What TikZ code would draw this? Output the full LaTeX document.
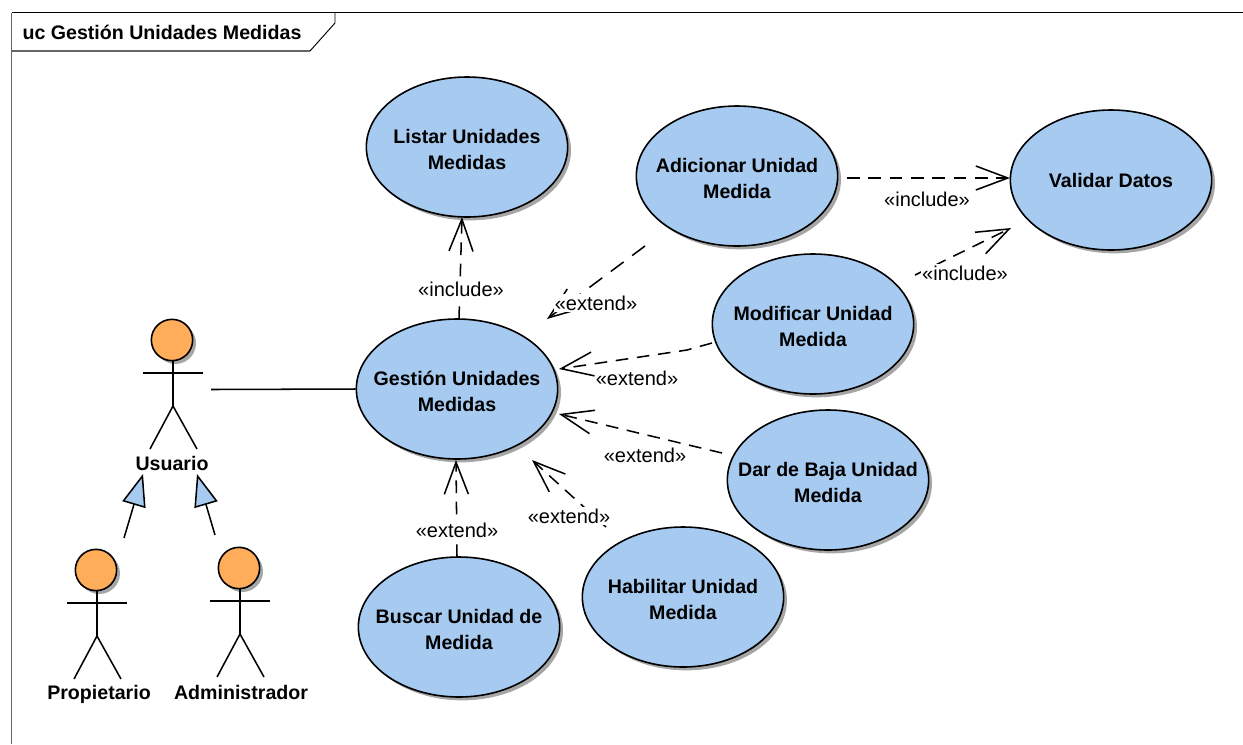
\documentclass[tikz,border=0pt]{standalone}
\usepackage{fontspec}
\setmainfont{Liberation Sans}
\usetikzlibrary{arrows.meta,shapes.geometric,shadows}

\definecolor{ucblue}{HTML}{A6CAF0}
\definecolor{actororange}{HTML}{FFAD5B}

\tikzset{
  usecase/.style={ellipse, draw, line width=1.2pt, fill=ucblue, inner ysep=0pt, inner xsep=-25pt,
    minimum width=151pt, minimum height=105pt, align=center,
    font=\fontsize{14.7}{19.5}\selectfont\bfseries,
    drop shadow={shadow xshift=2.5pt, shadow yshift=-2.5pt, fill=black!35, opacity=1}},
  usecasetwo/.style={usecase, text height=34pt},
  actorhead/.style={circle, draw, line width=1.2pt, fill=actororange, inner sep=0pt,
    minimum size=31pt,
    drop shadow={shadow xshift=2.5pt, shadow yshift=-2.5pt, fill=black!35, opacity=1}},
  actorname/.style={font=\fontsize{14.7}{16}\selectfont\bfseries, inner sep=1pt},
  depline/.style={line width=1.15pt, dash pattern=on 9.5pt off 6.5pt,
    -{Straight Barb[length=24pt, width=18pt, line width=1.15pt]}},
  deplabel/.style={fill=white, inner sep=1pt, font=\fontsize{15}{17}\selectfont},
  genline/.style={line width=1.15pt,
    -{Triangle[length=24pt, width=18pt, line width=1.15pt, fill=ucblue]}},
  actor/.pic={
    \node[actorhead] (-head) at (-1,0) {};
    \draw[line width=1.15pt] (0,21) -- (0,66) -- (-23,109);
    \draw[line width=1.15pt] (0,66) -- (24,109);
    \draw[line width=1.15pt] (-30,33) -- (30,33);
  }
}

\begin{document}
\begin{tikzpicture}[x=0.75pt, y=-0.75pt]
  \useasboundingbox (0,0) rectangle (1243,744);

  % Frame
  \draw[black!60, line width=1pt] (11.5,51) -- (11.5,744);
  \draw[line width=0.9pt] (11.5,12.5) -- (1243,12.5);
  \draw[black!60, line width=1pt] (11.5,12.5) -- (11.5,51) -- (310,51);
  \draw[line width=0.7pt] (310,51) -- (335,23) -- (335,12.5);
  \node[actorname, anchor=west] (title) at (21,32) {uc Gestión Unidades Medidas};

  % Use cases
  \node[usecasetwo] (listar) at (467,147) {Listar Unidades\\Medidas};
  \node[usecasetwo] (adicionar) at (737,176) {Adicionar Unidad\\Medida};
  \node[usecase] (validar) at (1111,180) {Validar Datos};
  \node[usecasetwo] (modificar) at (813,324) {Modificar Unidad\\Medida};
  \node[usecasetwo] (gestion) at (457,389) {Gestión Unidades\\Medidas};
  \node[usecasetwo] (baja) at (828,480) {Dar de Baja Unidad\\Medida};
  \node[usecasetwo] (habilitar) at (683,597) {Habilitar Unidad\\Medida};
  \node[usecasetwo] (buscar) at (459,627) {Buscar Unidad de\\Medida};

  % Actors
  \pic (usuario) at (173,340) {actor};
  \pic (propietario) at (97,570) {actor};
  \pic (administrador) at (240,568) {actor};
  \node[actorname] (usuarioname) at (172,463) {Usuario};
  \node[actorname] (propietarioname) at (99,694) {Propietario};
  \node[actorname] (administradorname) at (241,692) {Administrador};

  % Free ends of the connectors
  \coordinate (usuarioend) at (211,389.5);
  \coordinate (propietariotail) at (124,538);
  \coordinate (propietariotip) at (143,474);
  \coordinate (administradortail) at (215,535);
  \coordinate (administradortip) at (197,474);
  \coordinate (listarstart) at (459,319);
  \coordinate (listartip) at (462,217);
  \coordinate (adicionarstart) at (645,246);
  \coordinate (adicionartip) at (547,319);
  \coordinate (modificarstart) at (712,343);
  \coordinate (modificarbend) at (687,350);
  \coordinate (modificartip) at (559,369);
  \coordinate (bajastart) at (722,453);
  \coordinate (bajatip) at (559,414);
  \coordinate (habilitarstart) at (606,527);
  \coordinate (habilitartip) at (532,460);
  \coordinate (buscarstart) at (457,557);
  \coordinate (buscartip) at (456,460);
  \coordinate (validarstart) at (847,178);
  \coordinate (validartip) at (1010,178);
  \coordinate (validarlow) at (915,275);
  \coordinate (validarlowtip) at (1011,228);

  % Connectors
  \draw[line width=1.15pt] (usuarioend) -- (gestion.west);
  \draw[genline] (propietariotail) -- (propietariotip);
  \draw[genline] (administradortail) -- (administradortip);
  \draw[depline] (listarstart) -- (listartip);
  \draw[depline, dash pattern=on 12pt off 8pt] (adicionarstart) -- (adicionartip);
  \draw[depline] (modificarstart) -- (modificarbend) -- (modificartip);
  \draw[depline] (bajastart) -- (bajatip);
  \draw[depline] (habilitarstart) -- (habilitartip);
  \draw[depline] (buscarstart) -- (buscartip);
  \draw[depline] (validarstart) -- (validartip);
  \draw[depline] (validarlow) -- (validarlowtip);

  % Stereotypes
  \node[deplabel] (lblistar) at (461,289) {«include»};
  \node[deplabel] (lbadicionar) at (596,303) {«extend»};
  \node[deplabel] (lbmodificar) at (637,378) {«extend»};
  \node[deplabel] (lbbaja) at (645,455) {«extend»};
  \node[deplabel] (lbhabilitar) at (569,516) {«extend»};
  \node[deplabel] (lbbuscar) at (457,530) {«extend»};
  \node[deplabel] (lbvalidar) at (927,199) {«include»};
  \node[deplabel] (lbvalidarlow) at (965,273) {«include»};
\end{tikzpicture}
\end{document}
